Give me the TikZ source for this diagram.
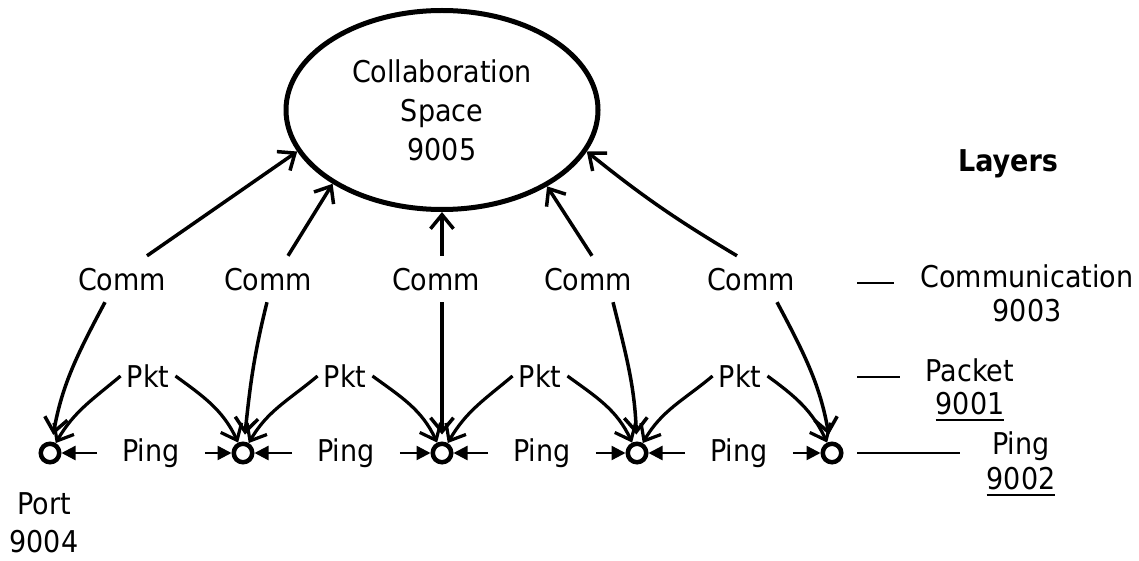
\documentclass[tikz,border=0pt]{standalone}
\usepackage{fontspec}
\setmainfont{DejaVu Sans Condensed}
\usetikzlibrary{shapes.geometric,arrows.meta}
\newcommand\ulnum[1]{\setbox0\hbox{#1}\rlap{\rule[-6pt]{\wd0}{2pt}}\box0}
\begin{document}
\begin{tikzpicture}[x=1pt,y=-1pt,
  every node/.style={font=\fontsize{30}{36}\selectfont, inner sep=0pt},
  lbl/.style={text height=22pt, text depth=0pt, anchor=base},
  commlbl/.style={lbl, inner ysep=12pt, inner xsep=2pt},
  pktlbl/.style={lbl, inner xsep=6pt, inner ysep=4pt},
  pinglbl/.style={lbl, inner xsep=25pt},
  port/.style={circle, draw, line width=4.5pt, minimum size=18.5pt, inner sep=0pt},
  collab/.style={ellipse, draw, line width=5pt, minimum width=312pt, minimum height=199pt, align=center, font=\fontsize{30}{39}\selectfont},
  commarr/.style={line width=3.5pt, -{Straight Barb[length=14pt,width=23pt]}},
  pktarr/.style={line width=3.2pt, -{Straight Barb[length=14pt,width=23pt]}},
  pingarr/.style={line width=2.4pt, -{Triangle[length=14pt,width=14pt]}},
  legline/.style={line width=2.4pt},
  legtext/.style={align=center, inner xsep=26pt}
]
\useasboundingbox (0,0) rectangle (1139,561);

% central space
\node[collab] (cs) at (442,110) {Collaboration\\Space\\9005};
\node[font=\bfseries\fontsize{30}{36}\selectfont, anchor=base] (layers) at (1008,172) {Layers};

% communication labels
\node[commlbl] (c1) at (122,290) {Comm};
\node[commlbl] (c2) at (268,290) {Comm};
\node[commlbl] (c3) at (436,290) {Comm};
\node[commlbl] (c4) at (588,290) {Comm};
\node[commlbl] (c5) at (751,290) {Comm};

% packet labels
\node[pktlbl] (k1) at (148,387) {Pkt};
\node[pktlbl] (k2) at (345,387) {Pkt};
\node[pktlbl] (k3) at (540,387) {Pkt};
\node[pktlbl] (k4) at (740,387) {Pkt};

% ports
\node[port] (p1) at (50,453) {};
\node[port] (p2) at (243,453) {};
\node[port] (p3) at (442,453) {};
\node[port] (p4) at (637,453) {};
\node[port] (p5) at (832,453) {};

% ping labels
\node[pinglbl] (g1) at (151,461) {Ping};
\node[pinglbl] (g2) at (346,461) {Ping};
\node[pinglbl] (g3) at (542,461) {Ping};
\node[pinglbl] (g4) at (739,461) {Ping};

% port label
\node[align=center, font=\fontsize{30}{38}\selectfont] (portlbl) at (44,523) {Port\\9004};

% legend
\node[legtext, font=\fontsize{30}{34}\selectfont] (lc) at (1027,293.6) {Communication\\9003};
\node[legtext, font=\fontsize{30}{33}\selectfont] (lp) at (970,390) {Packet\\\ulnum{9001}};
\node[legtext, font=\fontsize{30}{35}\selectfont] (lg) at (1021,464) {Ping\\\ulnum{9002}};

\coordinate (a1) at (857,283);
\coordinate (a2) at (857,377);
\coordinate (a3) at (857,453);
\draw[legline] (a1) -- (a1 -| lc.west);
\draw[legline] (a2) -- (a2 -| lp.west);
\draw[legline] (a3) -- (a3 -| lg.west);

% comm to space
\draw[commarr] ([xshift=25pt]c1.north) -- (cs.196.7);
\draw[commarr] ([xshift=20pt]c2.north) -- (cs.214.2);
\draw[commarr] ([xshift=6pt]c3.north) -- (cs.south);
\draw[commarr] ([xshift=4pt]c4.north) -- (cs.324.9);
\draw[commarr] ([xshift=-14pt]c5.north) to[bend left=4] (cs.344.2);

% comm to ports
\draw[commarr, shorten >=7pt] ([xshift=-17pt]c1.south) to[out=242,in=80] (p1);
\draw[commarr, shorten >=7pt] ([xshift=-1pt]c2.south) to[out=256,in=84] (p2);
\draw[commarr, shorten >=7pt] ([xshift=6pt]c3.south) -- (p3);
\draw[commarr, shorten >=7pt] ([xshift=25pt]c4.south) to[out=284,in=92] (p4);
\draw[commarr, shorten >=7pt] ([xshift=26pt]c5.south) to[out=298,in=100] (p5);

% packet to ports
\draw[pktarr] (k1.west) to[out=220,in=60] (p1);
\draw[pktarr] (k1.east) to[out=-36,in=115] (p2);
\draw[pktarr] (k2.west) to[out=220,in=60] (p2);
\draw[pktarr] (k2.east) to[out=-36,in=115] (p3);
\draw[pktarr] (k3.west) to[out=220,in=60] (p3);
\draw[pktarr] (k3.east) to[out=-36,in=115] (p4);
\draw[pktarr] (k4.west) to[out=220,in=60] (p4);
\draw[pktarr] (k4.east) to[out=-36,in=115] (p5);

% ping arrows
\draw[pingarr] (g1.west |- p1) -- (p1);
\draw[pingarr] (g1.east |- p2) -- (p2);
\draw[pingarr] (g2.west |- p2) -- (p2);
\draw[pingarr] (g2.east |- p3) -- (p3);
\draw[pingarr] (g3.west |- p3) -- (p3);
\draw[pingarr] (g3.east |- p4) -- (p4);
\draw[pingarr] (g4.west |- p4) -- (p4);
\draw[pingarr] (g4.east |- p5) -- (p5);
\end{tikzpicture}
\end{document}
